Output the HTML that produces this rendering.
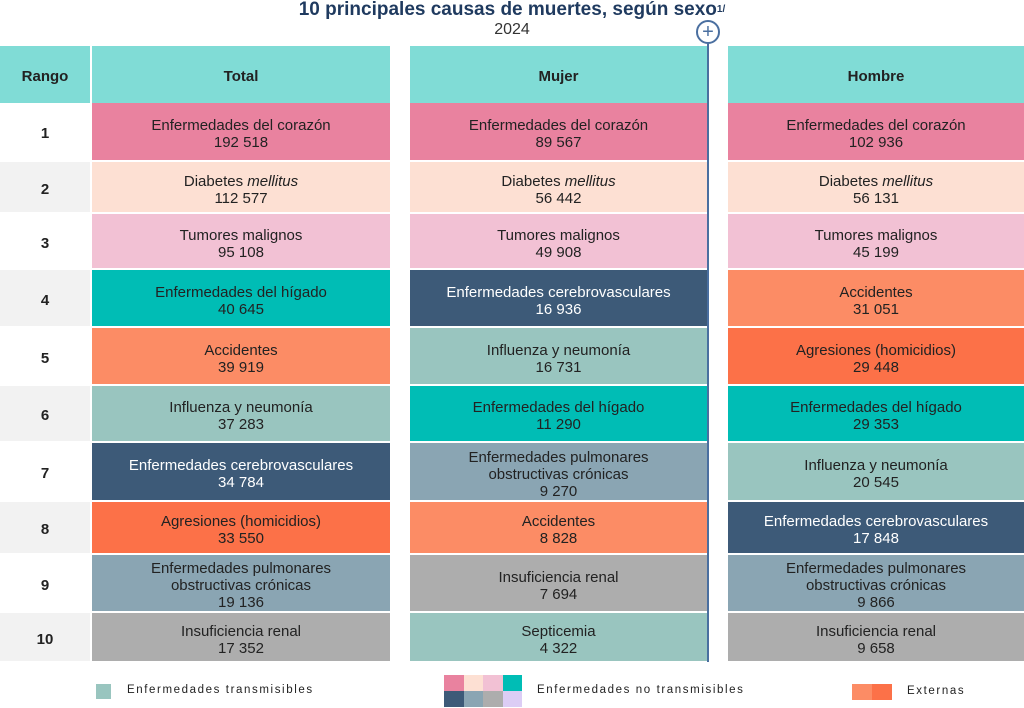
<!DOCTYPE html>
<html><head><meta charset="utf-8"><style>
body{margin:0;width:1024px;height:708px;background:#fff;position:relative;overflow:hidden;font-family:"Liberation Sans",sans-serif;color:#222}
.a{position:absolute;box-sizing:border-box;display:flex;align-items:center;justify-content:center;text-align:center}
.c{font-size:15px;line-height:17px;flex-direction:column;padding-top:5px}
.h{background:#80dcd6;font-weight:bold;font-size:15px;padding-top:4px}
.r{font-weight:bold;font-size:15px;padding-top:4px}
.lg{position:absolute;font-size:11.5px;letter-spacing:1.6px}
</style></head><body>
<div class="a" style="left:0;top:-2px;width:1024px;height:24px;font-weight:bold;font-size:19px;color:#1f3a5f">10 principales causas de muertes, según sexo<sup style="font-size:10px;line-height:0">1/</sup></div>
<div class="a" style="left:0;top:20px;width:1024px;height:20px;font-size:16px;color:#333">2024</div>
<div style="position:absolute;left:707px;top:40px;width:2px;height:622px;background:#4a6fa0"></div>
<div class="a" style="left:696px;top:20px;width:24px;height:24px;border:2px solid #4a6fa0;border-radius:50%;background:#fff;color:#4a6fa0;font-size:20px;line-height:20px">+</div>
<div class="a h" style="left:0;top:46px;width:90px;height:57px">Rango</div>
<div class="a h" style="left:92px;top:46px;width:298px;height:57px">Total</div>
<div class="a h" style="left:410px;top:46px;width:297px;height:57px">Mujer</div>
<div class="a h" style="left:728px;top:46px;width:296px;height:57px">Hombre</div>
<div id="t"></div>
<div class="a" style="left:96px;top:684px;width:15px;height:15px;background:#99c5bf"></div>
<div class="lg" style="left:127px;top:684px">Enfermedades transmisibles</div>
<div style="position:absolute;left:444px;top:675px;width:78px;height:32px;display:grid;grid-template-columns:repeat(4,1fr)">
<div style="background:#e9829f"></div><div style="background:#fde0d3"></div><div style="background:#f2c1d4"></div><div style="background:#00bdb5"></div>
<div style="background:#3d5a78"></div><div style="background:#8aa5b3"></div><div style="background:#adadad"></div><div style="background:#dccdf5"></div></div>
<div class="lg" style="left:537px;top:684px">Enfermedades no transmisibles</div>
<div style="position:absolute;left:852px;top:684px;width:40px;height:16px;background:linear-gradient(90deg,#fc8c65 50%,#fc7148 50%)"></div>
<div class="lg" style="left:907px;top:685px">Externas</div>
<script>
const colors={cor:"#e9829f",dia:"#fde0d3",tum:"#f2c1d4",hig:"#00bdb5",acc:"#fc8c65",agr:"#fc7148",inf:"#99c5bf",cer:"#3d5a78",pul:"#8aa5b3",ren:"#adadad",sep:"#99c5bf"};
const names={cor:"Enfermedades del corazón",dia:"Diabetes <i>mellitus</i>",tum:"Tumores malignos",hig:"Enfermedades del hígado",acc:"Accidentes",agr:"Agresiones (homicidios)",inf:"Influenza y neumonía",cer:"Enfermedades cerebrovasculares",pul:"Enfermedades pulmonares<br>obstructivas crónicas",ren:"Insuficiencia renal",sep:"Septicemia"};
const totalCauses=["cor","dia","tum","hig","acc","inf","cer","agr","pul","ren"];
const totalValues=["192 518","112 577","95 108","40 645","39 919","37 283","34 784","33 550","19 136","17 352"];
const mujerCauses=["cor","dia","tum","cer","inf","hig","pul","acc","ren","sep"];
const mujerValues=["89 567","56 442","49 908","16 936","16 731","11 290","9 270","8 828","7 694","4 322"];
const hombreCauses=["cor","dia","tum","acc","agr","hig","inf","cer","pul","ren"];
const hombreValues=["102 936","56 131","45 199","31 051","29 448","29 353","20 545","17 848","9 866","9 658"];
const rowTops=[103,162,214,270,328,386,443,502,555,613],rowBottoms=[160,212,268,326,384,441,500,553,611,661];
const t=document.getElementById('t');
const cols=[[92,298,totalCauses,totalValues,'total'],[410,297,mujerCauses,mujerValues,'mujer'],[728,296,hombreCauses,hombreValues,'hombre']];
for(let i=0;i<10;i++){
 const y=rowTops[i],h=rowBottoms[i]-rowTops[i];
 const r=document.createElement('div');r.className='a r';
 
 
 r.style.cssText=`left:0;top:${y}px;width:90px;height:${h}px;background:${i%2?'#f2f2f2':'#fff'}`;
 r.textContent=i+1;t.appendChild(r);
 for(const [x,w,cs,vs,n] of cols){
  const c=document.createElement('div');c.className='a c';
  
  
  const k=cs[i];
  c.style.cssText=`left:${x}px;top:${y}px;width:${w}px;height:${h}px;background:${colors[k]};color:${k=='cer'?'#fff':'#222'}`;
  c.innerHTML=`<div>${names[k]}</div><div>${vs[i]}</div>`;t.appendChild(c);
 }
}
</script>
</body></html>
